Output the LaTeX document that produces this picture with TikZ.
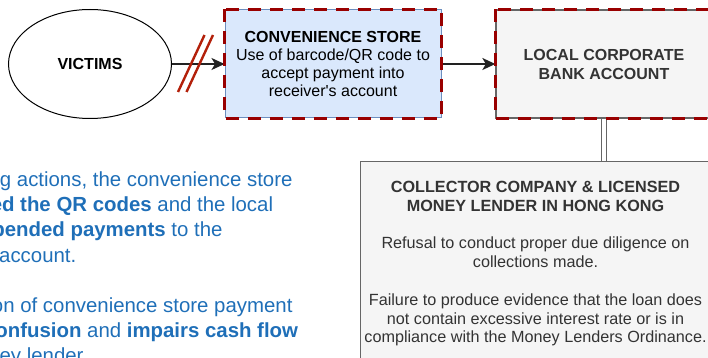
\documentclass[tikz,border=0pt]{standalone}
\usepackage{fontspec}
\setmainfont{Liberation Sans}
\usetikzlibrary{arrows.meta,shapes.geometric}
\definecolor{storefill}{HTML}{DAE8FC}
\definecolor{storeline}{HTML}{6C8EBF}
\definecolor{grayfill}{HTML}{F5F5F5}
\definecolor{grayline}{HTML}{666666}
\definecolor{frred}{HTML}{990000}
\definecolor{slashred}{HTML}{B3200A}
\definecolor{bluetext}{HTML}{1F6FB8}
\definecolor{darktext}{HTML}{333333}
\definecolor{connline}{HTML}{222222}
\tikzset{
  boxfont/.style={font=\fontsize{16}{18}\selectfont},
  storebox/.style={draw=storeline, fill=storefill, line width=1pt, inner sep=0pt,
    minimum width=216pt, minimum height=108pt, align=center, boxfont, text=black},
  graybox/.style={draw=grayline, fill=grayfill, line width=1.3pt, inner sep=0pt,
    align=center, boxfont, text=darktext},
  redframe/.style={draw=frred, line width=3.5pt, dash pattern=on 13pt off 9pt},
  conn/.style={draw=connline, line width=1.5pt, -{Stealth[length=13pt,width=12pt,inset=3.5pt]}},
  dbl/.style={draw=grayline, double=white, double distance=3.5pt, line width=1.2pt},
  slash/.style={draw=slashred, line width=2.4pt},
  bluetxt/.style={text=bluetext, font=\fontsize{20.4}{25}\selectfont, inner sep=0pt, anchor=base east},
}
\begin{document}
\begin{tikzpicture}[x=1pt,y=-1pt]
\useasboundingbox (0,0) rectangle (708,358);
\clip (0,0) rectangle (708,358);

% victims
\node[draw=black, fill=white, line width=1pt, ellipse, minimum width=163pt, minimum height=109pt,
      inner sep=0pt, boxfont] (victims) at (90,64) {\textbf{VICTIMS}};

% convenience store
\node[storebox] (store) at (333,64)
  {\textbf{CONVENIENCE STORE}\\Use of barcode/QR code to\\accept payment into\\receiver\textquotesingle s account};

% local bank
\node[graybox, minimum width=216pt, minimum height=108pt, font=\fontsize{16}{19}\selectfont] (bank) at (604,64)
  {\textbf{LOCAL CORPORATE}\\\textbf{BANK ACCOUNT}};

% collector
\node[graybox, minimum width=350pt, minimum height=240pt, anchor=north west] (coll) at (360,161) {};
\node[text=darktext, align=center, font=\fontsize{16.2}{18.8}\selectfont, inner sep=0pt, anchor=north] (colltext) at (535.5,181)
  {\textbf{COLLECTOR COMPANY \& LICENSED}\\\textbf{MONEY LENDER IN HONG KONG}\\[18.8pt]
   Refusal to conduct proper due diligence on\\collections made.\\[18.8pt]
   Failure to produce evidence that the loan does\\not contain excessive interest rate or is in\\compliance with the Money Lenders Ordinance.};

% connectors
\draw[conn] (victims.east) -- (store.west);
\draw[conn] (store.east) -- (bank.west);
\draw[dbl] (bank.south) -- (bank.south |- coll.north);

% red dashed frames
\draw[redframe] (store.north west) rectangle (store.south east);
\draw[redframe] (bank.north west) rectangle (bank.south east);

% red slashes
\coordinate (s1a) at (178,92); \coordinate (s1b) at (204.5,35);
\coordinate (s2a) at (186.5,92); \coordinate (s2b) at (213,35);
\draw[slash] (s1a) -- (s1b);
\draw[slash] (s2a) -- (s2b);

% blue left text (cut off at the left edge, as in the reference)
\node[bluetxt] (b1) at (292.7,186.5) {g actions, the convenience store};
\node[bluetxt] (b2) at (273.3,211.7) {\textbf{ed the QR codes} and the local};
\node[bluetxt] (b3) at (222.7,236.9) {\textbf{pended payments} to the};
\node[bluetxt] (b4) at (76.5,262.1) {account.};
\node[bluetxt] (b5) at (292.7,312.5) {on of convenience store payment};
\node[bluetxt] (b6) at (298.3,337.7) {\textbf{onfusion} and \textbf{impairs cash flow}};
\node[bluetxt] (b7) at (88.3,362.9) {ney lender.};
\end{tikzpicture}
\end{document}
